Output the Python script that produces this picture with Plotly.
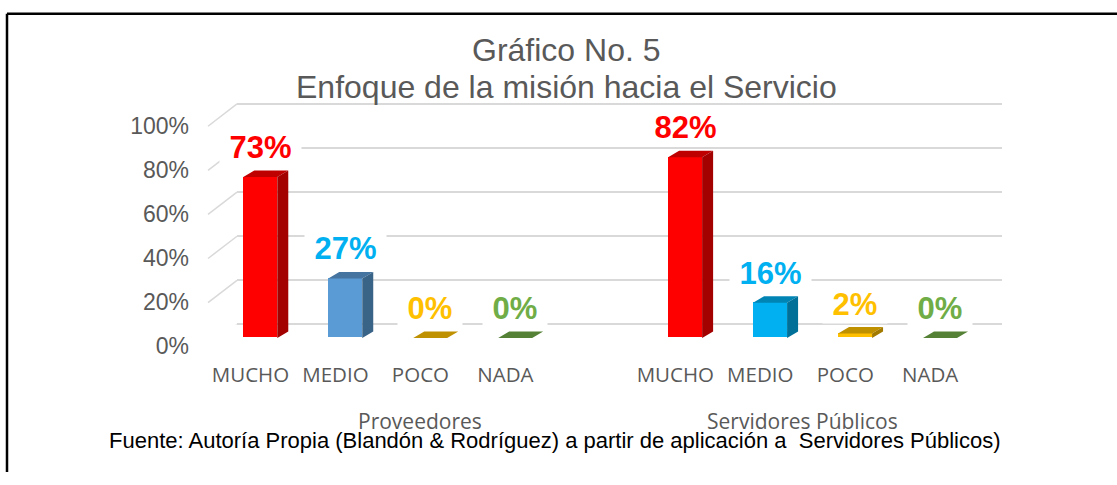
import plotly.graph_objects as go

# ---------------- data ----------------
levels = ["MUCHO", "MEDIO", "POCO", "NADA"]
groups = ["Proveedores", "Servidores Públicos"]
proveedores = [0.73, 0.27, 0.00, 0.00]
servidores = [0.82, 0.16, 0.02, 0.00]
y_ticks = [0.0, 0.2, 0.4, 0.6, 0.8, 1.0]
title_lines = ["Gráfico No. 5", "Enfoque de la misión hacia el Servicio"]
source_note = ("Fuente: Autoría Propia (Blandón & Rodríguez) a partir de aplicación a"
               "\u00a0 Servidores Públicos)")

# ---------------- styling / layout ----------------
W, H = 1117, 485
front_colors = [["#FF0000", "#5B9BD5", "#FFC000", "#70AD47"],
                ["#FF0000", "#00B0F0", "#FFC000", "#70AD47"]]
label_colors = ["#FF0000", "#00B0F0", "#FFC000", "#70AD47"]
group_start = [0, 5]          # slot of first category of each group
group_label_pos = [2, 6.5]    # centre of each group label (slots)
XR = [-0.5, 8.5]
YTOP = 1.05


def px(x):
    return x / W


def py(y):
    return 1 - y / H


def shade(hexc, f):
    h = hexc.lstrip("#")
    r, g, b = (int(h[i:i + 2], 16) for i in (0, 2, 4))
    return "#%02X%02X%02X" % (int(r * f), int(g * f), int(b * f))


back_x = (237.0, 1001.7)
slot = (back_x[1] - back_x[0]) / 9.0
vscale = 227.5
bar_shift, front_shift = 19.2, 29.0
back_y0, bar_y0, front_y0 = 332.7, 346.7, 355.0
dx_u = 11.0 / slot
dy_u = 6.7 / vscale
half_w = 0.2

fig = go.Figure()

# back wall subplot (x, y) -> gridlines only
fig.add_trace(go.Scatter(x=[0], y=[0], xaxis="x", yaxis="y", mode="markers",
                         marker=dict(opacity=0), hoverinfo="skip", showlegend=False))

values = [proveedores, servidores]
for g in range(2):
    xs = [group_start[g] + i for i in range(len(levels))]
    fig.add_trace(go.Bar(x=xs, y=values[g], width=2 * half_w, xaxis="x2", yaxis="y2",
                         marker=dict(color=front_colors[g], line=dict(width=0)),
                         hoverinfo="skip", showlegend=False))
    for i, v in enumerate(values[g]):
        p = xs[i]
        c = front_colors[g][i]
        # top face
        fig.add_trace(go.Scatter(
            x=[p - half_w, p - half_w + dx_u, p + half_w + dx_u, p + half_w, p - half_w],
            y=[v, v + dy_u, v + dy_u, v, v],
            xaxis="x2", yaxis="y2", mode="lines", fill="toself",
            fillcolor=shade(c, 0.75), line=dict(width=0, color=shade(c, 0.75)),
            hoverinfo="skip", showlegend=False))
        # side face
        if v > 0:
            fig.add_trace(go.Scatter(
                x=[p + half_w, p + half_w + dx_u, p + half_w + dx_u, p + half_w, p + half_w],
                y=[0, dy_u, v + dy_u, v, 0],
                xaxis="x2", yaxis="y2", mode="lines", fill="toself",
                fillcolor=shade(c, 0.64), line=dict(width=0, color=shade(c, 0.64)),
                hoverinfo="skip", showlegend=False))
        # value label
        fig.add_annotation(x=p, y=v, xref="x2", yref="y2", yanchor="bottom",
                           yshift=10, showarrow=False,
                           text="\u00a0%d%%\u00a0" % round(v * 100),
                           font=dict(family="Liberation Sans, Arial", size=31,
                                     color=label_colors[i], weight="bold"),
                           bgcolor="white", borderpad=1)

# front plane subplot (x3, y3) -> tick labels
fig.add_trace(go.Scatter(x=[0], y=[0], xaxis="x3", yaxis="y3", mode="markers",
                         marker=dict(opacity=0), hoverinfo="skip", showlegend=False))

tickvals, ticktext = [], []
for g in range(2):
    for i, lv in enumerate(levels):
        tickvals.append(group_start[g] + i)
        ticktext.append(lv)

for g, name in enumerate(groups):
    fig.add_annotation(x=group_label_pos[g], y=py(432), xref="x3", yref="paper",
                       text=name, showarrow=False, yanchor="middle",
                       font=dict(family="Open Sans", size=21, color="#595959"))

# diagonal connectors from front plane to back wall
for t in y_ticks:
    fig.add_shape(type="line", xref="paper", yref="y",
                  xsizemode="pixel", xanchor=px(back_x[0]), x0=-front_shift, x1=0,
                  ysizemode="pixel", yanchor=t, y0=-(front_y0 - back_y0), y1=0,
                  line=dict(color="#D9D9D9", width=1.5))

# titles and source
fig.add_annotation(x=px(566), y=py(50), xref="paper", yref="paper", text=title_lines[0],
                   showarrow=False, yanchor="middle",
                   font=dict(family="Liberation Sans, Arial", size=32, color="#595959"))
fig.add_annotation(x=px(566), y=py(88), xref="paper", yref="paper", text=title_lines[1],
                   showarrow=False, yanchor="middle",
                   font=dict(family="Liberation Sans, Arial", size=32, color="#595959"))
fig.add_annotation(x=px(554), y=py(452), xref="paper", yref="paper", text=source_note,
                   showarrow=False, yanchor="middle",
                   font=dict(family="Liberation Sans, Arial", size=22, color="black"))

# outer frame (left and top edges; the rest lies outside the picture)
frame = dict(color="black", width=2.5)
fig.add_shape(type="line", xref="paper", yref="paper", x0=px(7), y0=py(12),
              x1=px(7), y1=0, line=frame)
fig.add_shape(type="line", xref="paper", yref="paper", x0=px(7), y0=py(12),
              x1=1, y1=py(12), line=frame)

axis_off = dict(showgrid=False, zeroline=False, showline=False, showticklabels=False,
                ticks="", fixedrange=True)

fig.update_layout(
    width=W, height=H,
    margin=dict(l=0, r=0, t=0, b=0),
    paper_bgcolor="white", plot_bgcolor="rgba(0,0,0,0)",
    showlegend=False, bargap=0,
    xaxis=dict(axis_off, domain=[px(back_x[0]), px(back_x[1])], range=XR, anchor="y"),
    yaxis=dict(domain=[py(back_y0), py(back_y0 - vscale * YTOP)], range=[0, YTOP],
               anchor="x", showgrid=True, gridcolor="#D9D9D9", gridwidth=1.5,
               tickvals=y_ticks, zeroline=True, zerolinecolor="#D9D9D9",
               zerolinewidth=1.5, showticklabels=False, ticks="", showline=False,
               fixedrange=True),
    xaxis2=dict(axis_off, domain=[px(back_x[0] - bar_shift), px(back_x[1] - bar_shift)],
                range=XR, anchor="y2"),
    yaxis2=dict(axis_off, domain=[py(bar_y0), py(bar_y0 - vscale * YTOP)],
                range=[0, YTOP], anchor="x2"),
    xaxis3=dict(domain=[px(back_x[0] - front_shift), px(back_x[1] - front_shift)],
                range=XR, anchor="y3", showgrid=False, zeroline=False, showline=False,
                ticks="", tickvals=tickvals, ticktext=ticktext, ticklabelstandoff=14,
                tickfont=dict(family="Open Sans", size=20.5, color="#595959"),
                fixedrange=True),
    yaxis3=dict(domain=[py(front_y0), py(front_y0 - vscale * YTOP)], range=[0, YTOP],
                anchor="x3", showgrid=False, zeroline=False, showline=False, ticks="",
                tickvals=y_ticks, tickformat=".0%", ticklabelstandoff=18,
                tickfont=dict(family="Liberation Sans, Arial", size=23, color="#595959"),
                fixedrange=True),
)

fig.write_html(
    "out.html",
    config={"displayModeBar": False},
    post_script=(
        "var d=document.getElementById('{plot_id}');"
        "d.style.position='fixed';d.style.top='0px';d.style.left='0px';"
        "var r=document.documentElement, b=document.body;"
        "r.style.margin=b.style.margin='0';r.style.padding=b.style.padding='0';"
        "r.style.overflow=b.style.overflow='hidden';"
        "r.style.height=b.style.height='485px';"
    ),
)
